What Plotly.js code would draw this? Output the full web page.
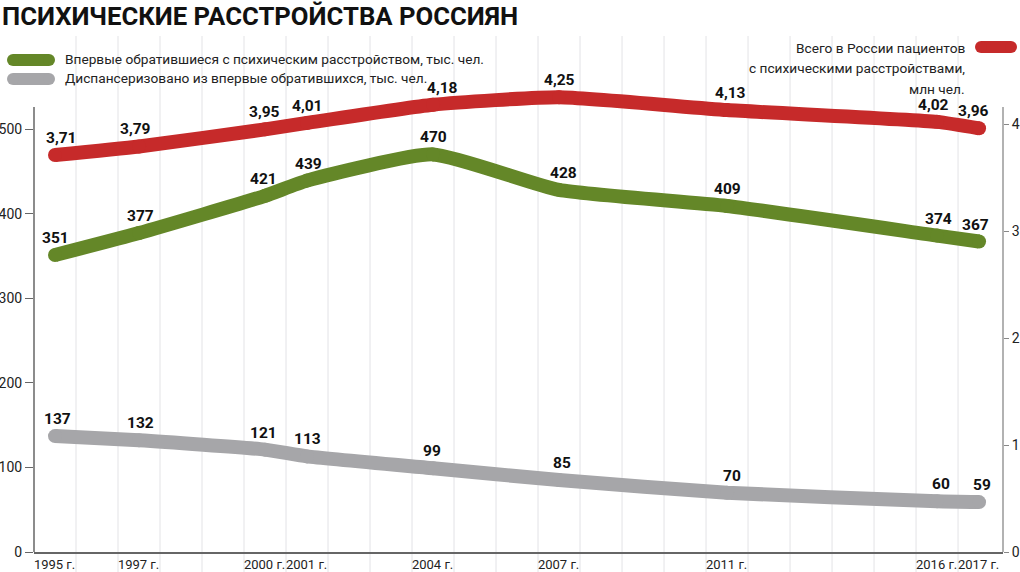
<!DOCTYPE html>
<html>
<head>
<meta charset="utf-8">
<script src="https://cdn.plot.ly/plotly-3.0.1.min.js"></script>
<style>
  html, body { margin: 0; padding: 0; background: #ffffff; }
  #chart { width: 1020px; height: 572px; }
</style>
</head>
<body>
<div id="chart"></div>
<script>
// ---- data ----
const years = [1995, 1997, 2000, 2001, 2004, 2007, 2011, 2016, 2017];
const firstTime = [351, 377, 421, 439, 470, 428, 409, 374, 367];      // тыс. чел.
const dispensary = [137, 132, 121, 113, 99, 85, 70, 60, 59];          // тыс. чел.
const totalPatients = [3.71, 3.79, 3.95, 4.01, 4.18, 4.25, 4.13, 4.02, 3.96]; // млн чел.
const yearLabels = years.map(y => y + ' г.');
const leftTicks = [0, 100, 200, 300, 400, 500];
const rightTicks = [0, 1, 2, 3, 4];
const titleText = 'ПСИХИЧЕСКИЕ РАССТРОЙСТВА РОССИЯН';
const legendGreen = 'Впервые обратившиеся с психическим расстройством, тыс. чел.';
const legendGray = 'Диспансеризовано из впервые обратившихся, тыс. чел.';
const legendRed = ['Всего в России пациентов', 'с психическими расстройствами,', 'млн чел.'];

// ---- styles ----
const FONT = "Roboto, 'Liberation Sans', sans-serif";
const GREEN = '#648728';
const GRAY = '#a6a6a9';
const RED = '#c62a2a';
const LW = 14;
// small horizontal nudges of the value labels (px), as placed in the reference
const greenLabelShift = [0, 1, -2, 1, 0, 4, 0, 1, -4];
const grayLabelShift = [2, 1, -2, 0, -1, 3, 5, 4, 3];
const redLabelShift = [6, -4, -1, 0, 9, 0, 3, -4, -6];

const W = 1020, H = 572;
const M = { l: 34, r: 17, t: 80, b: 20 };
const PW = W - M.l - M.r, PH = H - M.t - M.b;
const px2x = px => (px - M.l) / PW;
const py2y = py => (H - M.b - py) / PH;
const AXIS_TOP = 107;            // where the visible axis lines start (px)
const LEFT_PX_PER_UNIT = 0.846;  // scale
const RIGHT_PX_PER_UNIT = 107;

function lineTrace(y, color, axis) {
  return {
    x: years, y: y, yaxis: axis, type: 'scatter', mode: 'lines+markers',
    line: { color: color, width: LW, shape: 'spline', smoothing: 0.5 },
    marker: { color: color, size: LW, line: { width: 0 } },
    hoverinfo: 'skip', showlegend: false
  };
}

const traces = [
  lineTrace(dispensary, GRAY, 'y'),
  lineTrace(firstTime, GREEN, 'y'),
  lineTrace(totalPatients, RED, 'y2')
];

const annotations = [];
const labelFont = { family: FONT, size: 15.5, color: '#111', weight: 'bold' };
function addLabels(vals, axis, fmt, shifts) {
  vals.forEach((v, i) => {
    annotations.push({
      x: years[i], y: v, xref: 'x', yref: axis, text: fmt(v), showarrow: false,
      yanchor: 'middle', xanchor: 'center', yshift: 17, xshift: shifts[i], font: labelFont
    });
  });
}
addLabels(firstTime, 'y', v => String(v), greenLabelShift);
addLabels(dispensary, 'y', v => String(v), grayLabelShift);
addLabels(totalPatients, 'y2', v => v.toFixed(2).replace('.', ','), redLabelShift);

// legend texts
const legFont = { family: FONT, size: 13.7, color: '#222' };
annotations.push({ xref: 'paper', yref: 'paper', x: px2x(63), y: py2y(59), text: legendGreen,
  showarrow: false, xanchor: 'left', yanchor: 'middle', font: legFont });
annotations.push({ xref: 'paper', yref: 'paper', x: px2x(63), y: py2y(78), text: legendGray,
  showarrow: false, xanchor: 'left', yanchor: 'middle', font: legFont });
legendRed.forEach((t, i) => {
  annotations.push({ xref: 'paper', yref: 'paper', x: px2x(967), y: py2y(48 + i * 20.5), text: t,
    showarrow: false, xanchor: 'right', yanchor: 'middle', font: legFont });
});

const shapes = [];
// vertical gridlines between year bands
for (let yv = years[0]; yv < years[years.length - 1]; yv++) {
  shapes.push({ type: 'line', xref: 'x', yref: 'paper', x0: yv + 0.5, x1: yv + 0.5,
    y0: py2y(H), y1: py2y(36), line: { color: '#e3e3e6', width: 1 }, layer: 'below' });
}
// visible vertical axis lines
shapes.push({ type: 'line', xref: 'paper', yref: 'paper', x0: 0, x1: 0, y0: 0, y1: py2y(AXIS_TOP),
  line: { color: '#666', width: 1.5 } });
shapes.push({ type: 'line', xref: 'paper', yref: 'paper', x0: 1, x1: 1, y0: 0, y1: py2y(AXIS_TOP),
  line: { color: '#999', width: 1.5 } });
// legend pills
function pill(x0, x1, yc, h, color) {
  const r = h / 2;
  shapes.push({ type: 'rect', xref: 'paper', yref: 'paper', x0: px2x(x0 + r), x1: px2x(x1 - r),
    y0: py2y(yc + r), y1: py2y(yc - r), fillcolor: color, line: { width: 0 } });
  [x0 + r, x1 - r].forEach(cx => {
    shapes.push({ type: 'circle', xref: 'paper', yref: 'paper', x0: px2x(cx - r), x1: px2x(cx + r),
      y0: py2y(yc + r), y1: py2y(yc - r), fillcolor: color, line: { width: 0 } });
  });
}
pill(7, 55, 60, 12, GREEN);
pill(7, 55, 79, 12, GRAY);
pill(975, 1017, 47, 12, RED);

const axisFont = { family: FONT, size: 14, color: '#222' };
const layout = {
  width: W, height: H, margin: M,
  paper_bgcolor: '#ffffff', plot_bgcolor: '#ffffff',
  font: { family: FONT },
  title: { text: titleText, xref: 'container', yref: 'container', x: 0.002, xanchor: 'left',
    y: 1 - 16 / H, yanchor: 'middle', font: { family: FONT, size: 25.7, color: '#111', weight: 'bold' } },
  xaxis: {
    range: [1994.5, 2017.57], tickmode: 'array', tickvals: years.map(y => y + 0.5), ticktext: yearLabels,
    ticklabelposition: 'outside left', tickangle: 0, ticks: '', showgrid: false, zeroline: false,
    showline: true, linecolor: '#666', linewidth: 1.5,
    tickfont: { family: FONT, size: 13, color: '#222' }, fixedrange: true
  },
  yaxis: {
    range: [0, PH / LEFT_PX_PER_UNIT], tickmode: 'array', tickvals: leftTicks, ticks: 'outside', ticklen: 8,
    tickcolor: '#666', showline: false, showgrid: false,
    zeroline: false, tickfont: axisFont, fixedrange: true
  },
  yaxis2: {
    overlaying: 'y', side: 'right', range: [0, PH / RIGHT_PX_PER_UNIT], tickmode: 'array', tickvals: rightTicks,
    ticks: 'outside', ticklen: 5, tickcolor: '#888', showline: false,
    showgrid: false, zeroline: false, tickfont: axisFont, fixedrange: true
  },
  shapes: shapes,
  annotations: annotations,
  showlegend: false
};

Plotly.newPlot('chart', traces, layout, { staticPlot: true, displayModeBar: false });
</script>
</body>
</html>
